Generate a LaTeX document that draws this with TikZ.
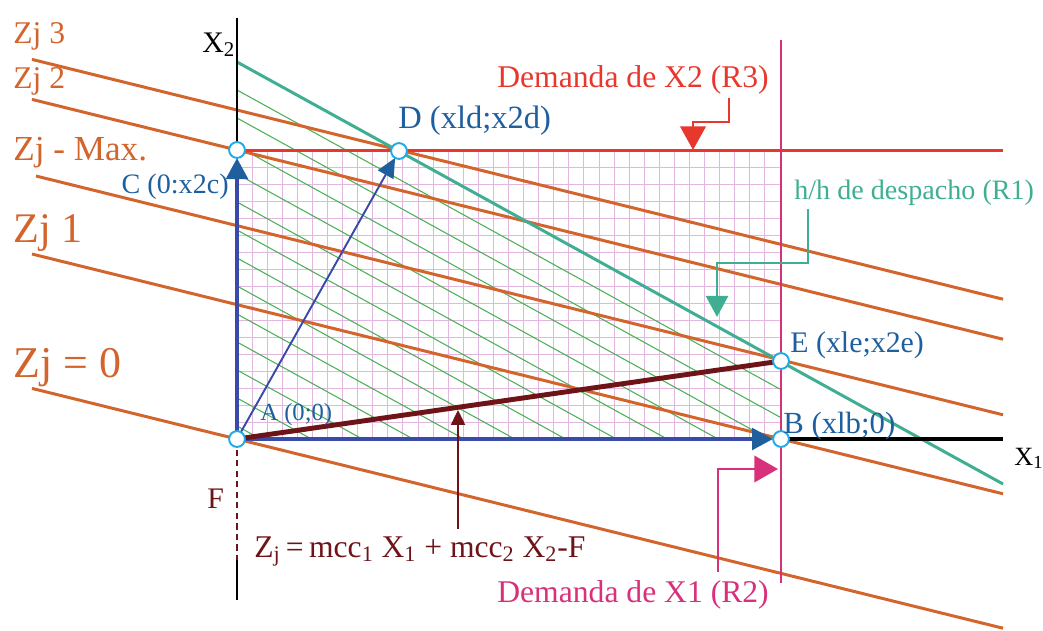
\documentclass[tikz,border=0pt]{standalone}
\usepackage{fontspec}
\setmainfont{Liberation Serif}
\usepackage{tikz}
\usetikzlibrary{arrows.meta,calc}
\definecolor{isoorange}{HTML}{D3642C}
\definecolor{tealc}{HTML}{3FAE92}
\definecolor{redc}{HTML}{E8372D}
\definecolor{pinkc}{HTML}{D8307A}
\definecolor{textblue}{HTML}{1E5FA0}
\definecolor{lineblue}{HTML}{3A4AA8}
\definecolor{tipblue}{HTML}{1F5F9E}
\definecolor{maroonc}{HTML}{6E1419}
\definecolor{hatchgreen}{HTML}{4AB055}
\definecolor{gridpink}{HTML}{E2B6DE}
\definecolor{ptcyan}{HTML}{1EAAE6}

\begin{document}
\begin{tikzpicture}[x=0.02cm,y=-0.02cm,
  iso/.style={isoorange,line width=1.7pt},
  bluevec/.style={lineblue,line width=2.8pt,shorten >=4.5pt,-{Triangle[length=12pt,width=12pt,color=tipblue]}},
  ptmark/.style={circle,draw=ptcyan,fill=white,line width=1.1pt,inner sep=0pt,minimum size=9pt},
  lab/.style={inner sep=0pt,anchor=base west},
  callout/.style={line width=1.6pt,shorten <=2pt}]
\useasboundingbox (0,0) rectangle (1043,630);
% points of the region
\coordinate (pA) at (237,439);
\coordinate (pB) at (781,439);
\coordinate (pC) at (237,150);
\coordinate (pD) at (399,151);
\coordinate (pE) at (781,361);
\coordinate (tealtop) at (237,62);
% grid of the feasible rectangle
\begin{scope}
\clip (pA) rectangle (781,150);
\foreach \i in {1,...,36} \draw[gridpink,line width=0.45pt] ({237+15.08*\i},150)--++(0,289);
\foreach \j in {1,...,16} \draw[gridpink,line width=0.45pt] (237,{439-17*\j})--++(544,0);
\end{scope}
% hatching below R1
\begin{scope}
\clip (pA)--(tealtop)--(pE)--(pB)--cycle;
\foreach \k in {1,...,13} \draw[hatchgreen,line width=0.6pt] (237,{62+28*\k})--++(560,308.5);
\end{scope}
% iso-profit lines
\draw[iso](32,388.4)--(1003,628.2);
\draw[iso](32,254)--(1003,493.8);
\draw[iso](36,176)--(1003,414.8);
\draw[iso](32,99.4)--(1003,339.2);
\draw[iso](32,59.4)--(1003,299.2);
% restrictions
\draw[tealc,line width=1.7pt](tealtop)--(1003,484);
\draw[redc,line width=1.7pt](pC)--(1003,150);
\draw[pinkc,line width=1.4pt](781,40)--(781,583);
% axes
\draw[line width=1.7pt](237,18)--(pC);
\draw[line width=2.3pt](pB)--(1003,439);
\draw[maroonc,line width=1.5pt,dash pattern=on 3.5pt off 2.5pt](pA)--(237,560);
\draw[line width=1.5pt](237,560)--(237,600);
% vectors
\draw[bluevec](pA)--(pC);
\draw[bluevec](pA)--(pB);
\draw[lineblue,line width=1.1pt,shorten >=4.5pt,-{Triangle[length=11pt,width=10pt,color=tipblue]}](pA)--(pD);
\draw[maroonc,line width=2.8pt](pA)--(pE);
\foreach \p in {pA,pB,pC,pD,pE} \node[ptmark] at (\p) {};
% labels
\node[lab,font=\fontsize{17}{20}\selectfont] (x2) at (202,52) {X\textsubscript{2}};
\node[lab,font=\fontsize{15}{18}\selectfont] (x1) at (1014,465) {X\textsubscript{1}};
\node[lab,textblue,font=\fontsize{18.5}{22}\selectfont] (dl) at (398,128) {D (xld;x2d)};
\node[inner sep=0pt,anchor=base east,textblue,font=\fontsize{16}{19}\selectfont] (cl) at (229,193) {C (0:x2c)};
\node[lab,textblue,font=\fontsize{14}{17}\selectfont] (al) at (260,420) {A (0;0)};
\node[lab,textblue,font=\fontsize{17}{20}\selectfont] (el) at (790,352) {E (xle;x2e)};
\node[lab,textblue,font=\fontsize{17.5}{20}\selectfont] (bl) at (783,433) {B (xlb;0)};
\node[lab,maroonc,font=\fontsize{17}{20}\selectfont] (fl) at (207,508) {F};
\node[lab,maroonc,font=\fontsize{18}{22}\selectfont] (zf) at (254,557) {Z\textsubscript{j}\,=\,mcc\textsubscript{1} X\textsubscript{1} + mcc\textsubscript{2} X\textsubscript{2}-F};
\node[lab,redc,font=\fontsize{18}{21}\selectfont] (r3) at (497,87) {Demanda de X2 (R3)};
\node[lab,tealc,font=\fontsize{16}{19}\selectfont] (r1) at (794,199) {h/h de despacho (R1)};
\node[lab,pinkc,font=\fontsize{18}{21}\selectfont] (r2) at (497,602) {Demanda de X1 (R2)};
\node[lab,isoorange,font=\fontsize{18}{21}\selectfont] (z3) at (13,43) {Zj 3};
\node[lab,isoorange,font=\fontsize{18}{21}\selectfont] (z2) at (13,88) {Zj 2};
\node[lab,isoorange,font=\fontsize{20}{24}\selectfont] (zmax) at (13,160) {Zj - Max.};
\node[lab,isoorange,font=\fontsize{24}{28}\selectfont] (z1) at (13,242) {Zj 1};
\node[lab,isoorange,font=\fontsize{25}{30}\selectfont] (z0) at (13,377) {Zj = 0};
% callouts
\coordinate (r3k) at (729,122);
\coordinate (r3tip) at (693,150);
\draw[callout,redc,-{Triangle[length=13.5pt,width=14.5pt]}](r3.south -| r3k)--(r3k)-|(r3tip);
\coordinate (r1k) at (808,263);
\coordinate (r1tip) at (717,317);
\draw[callout,tealc,-{Triangle[length=12pt,width=12.5pt]}](r1.south -| r1k)--(r1k)-|(r1tip);
\coordinate (r2k) at (718,469);
\coordinate (r2tip) at (778,469);
\draw[callout,pinkc,shorten <=4.5pt,-{Triangle[length=13.5pt,width=15pt]}](r2.north -| r2k)--(r2k)--(r2tip);
\coordinate (zftip) at (458,410);
\draw[maroonc,line width=1.2pt,shorten <=4pt,-{Triangle[length=8.5pt,width=8pt]}](zf.north -| zftip)--(zftip);
\end{tikzpicture}
\end{document}
